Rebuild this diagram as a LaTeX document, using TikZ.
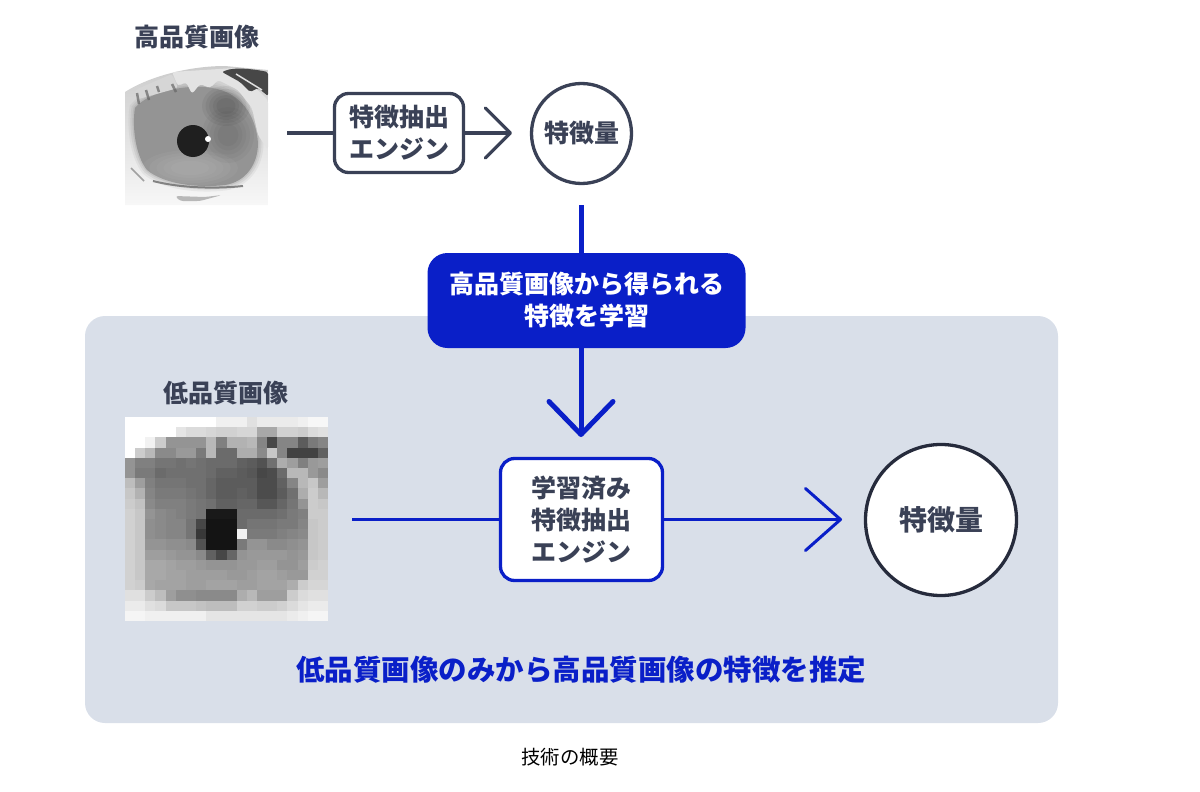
\documentclass[tikz,border=0pt]{standalone}
\usepackage{fontspec}
\setmainfont{Noto Sans CJK JP}
\usetikzlibrary{arrows.meta}
\definecolor{navyline}{HTML}{3A4156}
\definecolor{darkline}{HTML}{262B3C}
\definecolor{learnblue}{HTML}{0A1FC8}
\definecolor{panelgray}{HTML}{D9DFE9}
\def\irispath{(135, 108) .. controls (150, 90) and (190, 84) .. (212, 88) .. controls (240, 92) and (256, 115) .. (258, 143)
  .. controls (258, 165) and (245, 182) .. (225, 185) .. controls (200, 188) and (165, 185) .. (147, 170)
  .. controls (135, 155) and (132, 125) .. (135, 108) -- cycle}

\begin{document}
\begin{tikzpicture} [x=1pt, y=-1pt, align=center,
  label text/.style={font=\fontsize{25}{32}\selectfont\bfseries, text=navyline, inner sep=0},
  engine box/.style={label text, draw=navyline, line width=3.3pt, fill=white, rounded corners=14pt, minimum width=129pt, minimum height=79pt},
  feature circle/.style={label text, circle, draw=navyline, line width=3.3pt, fill=white, minimum size=100pt},
  navy arrow/.style={navyline, line width=3.3pt, -{Straight Barb[length=25pt, width=50pt, round]}},
  blue arrow/.style={learnblue, line width=3pt, -{Straight Barb[length=35pt, width=62pt, round]}}]
\useasboundingbox (0, 0) rectangle (1200, 792);

\path (571.5, 519.5) node[fill=panelgray, rounded corners=20pt, minimum width=973pt, minimum height=407pt, inner sep=0] (panel) {};

% eye, sharp version
\begin{scope}
\clip (125, 65) rectangle (268, 205);
\shade[top color=black!20, middle color=black!17, bottom color=black!3] (125, 92) .. controls (150, 76) and (190, 66) .. (225, 66) -- (268, 70)
  -- (268, 205) -- (125, 205) -- cycle;
\foreach \w/\o in {11/0.12, 7/0.18, 3/0.25} {
  \draw[black!42, line width=\w pt, opacity=\o] \irispath;
}
\fill[black!42] \irispath;
\foreach \f in {1, 0.85, 0.7, 0.55, 0.4} {
  \fill[black, opacity=0.05] (226, 106) ellipse ({24*\f} and {20*\f});
  \fill[black, opacity=0.03] (228, 135) ellipse ({26*\f} and {28*\f});
  \fill[white, opacity=0.04] (190, 168) ellipse ({48*\f} and {18*\f});
}
\fill[black!11, rounded corners=3pt] (172, 72) -- (178, 86) -- (186, 82) -- (192, 94) -- (200, 84) -- (210, 88) -- (218, 80) -- (238, 90) -- (252, 108) -- (258, 135) -- (268, 150) -- (268, 100) -- (235, 68) -- cycle;
\fill[black!16, rounded corners=3pt] (135, 90) -- (172, 74) -- (178, 88) -- (135, 100) -- cycle;
\fill[black!72, rounded corners=2pt] (222, 72) .. controls (235, 66) and (258, 70) .. (268, 72) -- (268, 96) -- (258, 88) -- (250, 92) -- (240, 82) -- cycle;
\draw[black!12, line width=1.5pt] (236, 74) -- (262, 90);
\draw[black!60, line width=2.5pt, opacity=0.7] (137, 93) -- (139, 104) (146, 90) -- (149, 100) (157, 86) -- (159, 92) (172, 84) -- (176, 92);
\draw[black!58, line width=2pt, opacity=0.8] (153, 181) .. controls (180, 188) and (215, 189) .. (243, 186);
\draw[black!50, line width=1.5pt, opacity=0.7] (131, 168) -- (144, 181);
\fill[black!28, rounded corners=3pt] (175, 196) -- (205, 197) -- (222, 195) -- (200, 201) -- (180, 201) -- cycle;
\fill[black!88] (193, 141) circle (16);
\fill[white] (208, 139) circle (3);
\end{scope}

% eye, pixel version
\foreach \row [count=\j from 0] in {
  {0,0,0,0,0,0,0,0,0,6,6,6,12,8,8,8,8,6,3,3},
  {0,0,0,0,0,10,14,14,16,18,18,16,16,34,34,18,18,20,14,12},
  {0,0,5,20,42,42,42,42,28,50,30,30,28,48,72,48,48,64,52,48},
  {0,20,28,46,46,40,40,52,28,58,58,32,32,46,22,48,74,74,74,62},
  {42,50,50,54,54,56,54,56,58,58,58,62,64,68,56,32,38,50,40,38},
  {42,52,52,58,56,56,56,56,58,62,62,64,66,72,70,58,28,28,40,46},
  {26,38,50,54,54,54,56,56,60,64,64,64,64,70,70,62,48,28,22,38},
  {22,30,48,52,52,52,54,56,60,64,64,62,64,70,70,64,56,32,20,28},
  {20,24,46,50,50,50,52,54,56,62,62,60,60,66,66,60,54,42,20,22},
  {18,22,42,46,48,50,52,54,90,90,90,58,58,58,58,56,52,50,20,20},
  {18,22,44,46,48,48,54,72,92,92,92,58,54,54,54,52,52,48,22,20},
  {18,22,44,46,48,48,54,78,92,92,92,5,52,52,52,50,48,46,22,20},
  {18,22,42,42,44,44,46,68,92,92,92,52,42,42,46,46,44,42,22,20},
  {18,22,38,38,40,42,42,46,62,72,60,42,40,40,40,40,42,40,22,20},
  {18,22,34,34,36,38,38,40,42,42,42,40,40,38,38,42,42,38,20,18},
  {18,22,34,34,36,36,38,38,38,38,40,40,38,36,36,38,40,40,18,18},
  {18,20,34,36,36,36,38,38,36,36,36,38,38,36,36,36,32,20,16,16},
  {12,12,20,26,38,44,44,46,46,46,46,32,28,38,38,38,20,14,12,12},
  {8,8,12,14,22,22,22,24,26,26,26,18,18,20,20,18,14,10,8,8},
  {4,4,6,6,6,6,6,6,10,10,10,10,10,10,10,10,8,6,4,4}} {
  \foreach \g [count=\i from 0] in \row {
    \fill[black!\g] ({125+\i*10.15}, {417+\j*10.2}) rectangle +(10.3, 10.3);
  }
}

\path (197, 37) node[label text] (highlabel) {高品質画像}
      (226, 393) node[label text] (lowlabel) {低品質画像}
      (399, 133) node[engine box] (engine) {特徴抽出\\エンジン}
      (581.5, 133.5) node[feature circle] (highfeature) {特徴量}
      (586.5, 300.5) node[label text, fill=learnblue, text=white, rounded corners=20pt, minimum width=318pt, minimum height=95pt] (learn) {高品質画像から得られる\\特徴を学習}
      (581.5, 519.5) node[engine box, draw=learnblue, minimum width=162pt, minimum height=122pt] (trained) {学習済み\\特徴抽出\\エンジン}
      (941, 520) node[feature circle, draw=darkline, font=\fontsize{28}{32}\selectfont\bfseries, minimum size=151pt] (lowfeature) {特徴量}
      (581, 670) node[label text, font=\fontsize{28.5}{32}\selectfont\bfseries, text=learnblue] (estimate) {低品質画像のみから高品質画像の特徴を推定}
      (570, 757) node[inner sep=0, font=\fontsize{19.4}{24}\selectfont] (caption) {技術の概要};

\coordinate (highstart) at (287, 133);
\coordinate (hightip) at (512, 133);
\coordinate (learnstart) at (581, 205);
\coordinate (learntip) at (581, 437);
\coordinate (lowstart) at (352, 519.5);
\coordinate (lowtip) at (842, 519.5);

\draw[navyline, line width=3.3pt] (highstart) to (engine);
\draw[navy arrow] (engine) to (hightip);
\draw[learnblue, line width=5pt] (learnstart) to (learnstart |- learn.north);
\draw[learnblue, line width=5pt, line cap=round, -{Straight Barb[length=33pt, width=64pt, round]}] (learnstart |- learn.south) to (learntip);
\draw[learnblue, line width=3pt] (lowstart) to (trained);
\draw[blue arrow] (trained) to (lowtip);
\end{tikzpicture}
\end{document}
